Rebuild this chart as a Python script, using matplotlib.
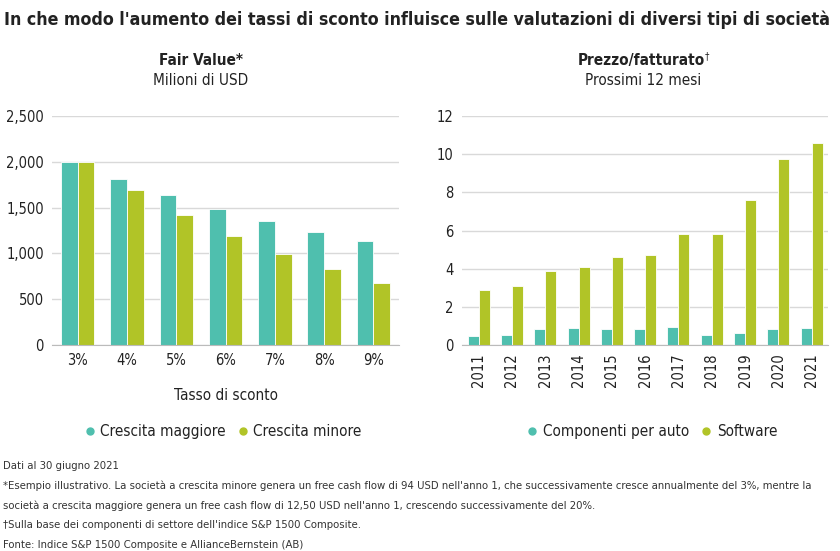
import matplotlib
matplotlib.use("Agg")
import matplotlib.pyplot as plt
import numpy as np
from matplotlib.lines import Line2D

plt.rcParams["font.family"] = ["DejaVu Sans"]
plt.rcParams["font.stretch"] = "condensed"

TEAL = "#4fbfae"
LIME = "#b1c427"
GRID = "#d9d9d9"
TXT = "#222222"

# left panel: fair value by discount rate
rates = ["3%", "4%", "5%", "6%", "7%", "8%", "9%"]
high_growth = [2000, 1810, 1640, 1490, 1360, 1240, 1140]
low_growth = [2000, 1690, 1420, 1195, 995, 825, 675]

# right panel: price/sales, next 12 months
years = ["2011", "2012", "2013", "2014", "2015", "2016", "2017", "2018", "2019", "2020", "2021"]
auto_parts = [0.45, 0.52, 0.83, 0.88, 0.86, 0.86, 0.95, 0.52, 0.65, 0.82, 0.90]
software = [2.9, 3.1, 3.88, 4.1, 4.6, 4.7, 5.8, 5.8, 7.6, 9.75, 10.6]

fig = plt.figure(figsize=(8.4, 5.51), dpi=100)


def style_axis(ax):
    for s in ("top", "right", "left"):
        ax.spines[s].set_visible(False)
    ax.spines["bottom"].set_color("#bbbbbb")
    ax.yaxis.grid(True, color=GRID, lw=1)
    ax.set_axisbelow(True)
    ax.tick_params(axis="both", length=0, labelsize=10.5, colors=TXT, pad=6)


# left
ax1 = fig.add_axes([0.062, 0.374, 0.413, 0.415])
x = np.arange(len(rates))
w = 0.34
ax1.bar(x - w / 2, high_growth, w, color=TEAL, edgecolor="white", lw=0.6)
ax1.bar(x + w / 2, low_growth, w, color=LIME, edgecolor="white", lw=0.6)
ax1.set_xticks(x, rates)
ax1.set_ylim(0, 2500)
ax1.set_yticks(range(0, 2501, 500), [f"{v:,}" for v in range(0, 2501, 500)])
ax1.set_xlim(-0.52, len(rates) - 0.48)
style_axis(ax1)
ax1.set_xlabel("Tasso di sconto", fontsize=11, color=TXT, labelpad=14)

# right
ax2 = fig.add_axes([0.55, 0.374, 0.436, 0.415])
x2 = np.arange(len(years))
w2 = 0.33
ax2.bar(x2 - w2 / 2, auto_parts, w2, color=TEAL, edgecolor="white", lw=0.6)
ax2.bar(x2 + w2 / 2, software, w2, color=LIME, edgecolor="white", lw=0.6)
ax2.set_xticks(x2, years, rotation=90)
ax2.set_ylim(0, 12)
ax2.set_yticks(range(0, 13, 2))
ax2.set_xlim(-0.5, len(years) - 0.5)
style_axis(ax2)

# titles
fig.text(0.005, 0.965, "In che modo l'aumento dei tassi di sconto influisce sulle valutazioni di diversi tipi di società",
         fontsize=12.75, fontweight="bold", color=TXT, va="center")
fig.text(0.239, 0.89, "Fair Value*", fontsize=11, fontweight="bold", color=TXT, ha="center", va="center")
fig.text(0.239, 0.853, "Milioni di USD", fontsize=11, color=TXT, ha="center", va="center")
fig.text(0.763, 0.89, "Prezzo/fatturato", fontsize=11, fontweight="bold", color=TXT, ha="center", va="center")
fig.text(0.8395, 0.898, "\u2020", fontsize=7, color=TXT, ha="left", va="center")
fig.text(0.766, 0.853, "Prossimi 12 mesi", fontsize=11, color=TXT, ha="center", va="center")

# legends
def dot(c):
    return Line2D([], [], marker="o", ls="", color=c, markersize=5)

leg_kw = dict(loc="center", ncol=2, frameon=False, fontsize=11, handlelength=0.6,
              handletextpad=0.4, columnspacing=0.8, labelcolor=TXT)
fig.legend([dot(TEAL), dot(LIME)], ["Crescita maggiore", "Crescita minore"],
           bbox_to_anchor=(0.266, 0.217), **leg_kw)
fig.legend([dot(TEAL), dot(LIME)], ["Componenti per auto", "Software"],
           bbox_to_anchor=(0.777, 0.217), **leg_kw)

# footnotes
notes = [
    "Dati al 30 giugno 2021",
    "*Esempio illustrativo. La società a crescita minore genera un free cash flow di 94 USD nell'anno 1, che successivamente cresce annualmente del 3%, mentre la",
    "società a crescita maggiore genera un free cash flow di 12,50 USD nell'anno 1, crescendo successivamente del 20%.",
    "\u2020Sulla base dei componenti di settore dell'indice S&P 1500 Composite.",
    "Fonte: Indice S&P 1500 Composite e AllianceBernstein (AB)",
]
for i, line in enumerate(notes):
    fig.text(0.004, 0.154 - i * 0.0357, line, fontsize=8.1, color="#333333", va="center")

fig.savefig("out.png", dpi=100)
